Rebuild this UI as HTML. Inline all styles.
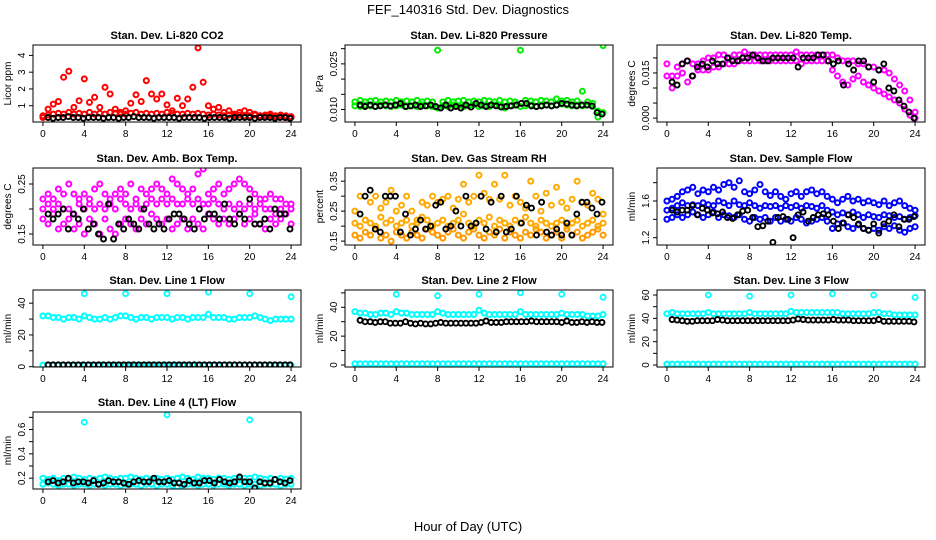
<!DOCTYPE html>
<html><head><meta charset="utf-8"><style>
html,body{margin:0;padding:0;background:#fff;}
svg{display:block;font-family:"Liberation Sans",Arial,sans-serif;}
</style></head><body>
<svg id="chart" width="936" height="540" viewBox="0 0 936 540" xmlns="http://www.w3.org/2000/svg">
<rect x="0" y="0" width="936" height="540" fill="#fff"/>
<text x="468" y="14" font-size="13" text-anchor="middle">FEF_140316  Std. Dev. Diagnostics</text>
<text x="468" y="531" font-size="13" text-anchor="middle">Hour of Day (UTC)</text>
</svg>
<script>
const xTicks = [0,4,8,12,16,20,24];
const co2A = [0.4,0.45,0.5,0.55,0.5,0.6,0.5,0.55,0.5,0.6,0.5,0.55,0.5,0.6,0.55,0.5,0.5,0.55,0.6,0.5,0.55,0.5,0.55,0.5,0.6,0.55,0.5,0.5,0.55,0.5,0.55,0.5,0.45,0.5,0.45,0.4,0.45,0.4,0.45,0.4,0.4,0.45,0.4,0.35,0.4,0.35,0.35,0.3,0.3];
const co2B = [0.3,0.8,1.1,1.25,2.7,3.05,0.9,1.3,2.6,1.2,1.5,0.9,2.1,1.7,0.8,0.6,0.7,1.15,1.65,1.25,2.5,1.7,1.4,1.7,1.05,0.7,1.45,1.0,1.4,2.1,4.45,2.4,1.0,0.8,0.9,0.6,0.7,0.5,0.6,0.7,0.6,0.5,0.4,0.45,0.5,0.4,0.45,0.4,0.35];
const co2K = [0.3,0.25,0.3,0.3,0.35,0.3,0.3,0.25,0.3,0.3,0.3,0.25,0.3,0.3,0.25,0.3,0.3,0.35,0.3,0.3,0.3,0.25,0.3,0.3,0.3,0.3,0.25,0.3,0.3,0.3,0.3,0.25,0.3,0.3,0.3,0.3,0.25,0.3,0.3,0.3,0.3,0.25,0.3,0.3,0.3,0.25,0.3,0.3,0.25];
const prA = [0.0125,0.013,0.0125,0.0128,0.013,0.0125,0.0128,0.0125,0.013,0.0125,0.0128,0.0125,0.013,0.0125,0.0128,0.0125,0.0295,0.0125,0.013,0.0125,0.0128,0.013,0.0125,0.0128,0.0125,0.013,0.0128,0.0125,0.013,0.0125,0.0128,0.0125,0.0295,0.013,0.0128,0.0125,0.013,0.0128,0.0125,0.0135,0.0128,0.013,0.0125,0.0128,0.016,0.0125,0.012,0.0075,0.031];
const prB = [0.0112,0.011,0.0115,0.0112,0.011,0.0115,0.0112,0.011,0.0112,0.0115,0.011,0.0112,0.011,0.0115,0.0112,0.011,0.0105,0.0112,0.011,0.0115,0.0112,0.011,0.0112,0.0115,0.011,0.0112,0.011,0.0115,0.0112,0.0105,0.0112,0.0115,0.011,0.0112,0.0115,0.011,0.0112,0.0115,0.0112,0.0115,0.0118,0.0115,0.0112,0.0115,0.0112,0.0115,0.011,0.0095,0.009];
const prK = [0.0115,0.011,0.0115,0.011,0.0112,0.0115,0.0112,0.0115,0.012,0.011,0.0112,0.0115,0.011,0.0112,0.0115,0.011,0.0105,0.0115,0.0105,0.011,0.0105,0.0115,0.0108,0.012,0.0115,0.011,0.0115,0.0112,0.0108,0.011,0.0112,0.0115,0.012,0.012,0.0112,0.011,0.0112,0.0115,0.0112,0.0115,0.012,0.0118,0.0115,0.0112,0.0115,0.0115,0.0112,0.009,0.0085];
const tA = [0.018,0.014,0.017,0.018,0.019,0.018,0.018,0.019,0.02,0.02,0.021,0.021,0.02,0.021,0.021,0.022,0.021,0.021,0.021,0.021,0.021,0.021,0.021,0.021,0.021,0.022,0.021,0.021,0.021,0.021,0.021,0.021,0.021,0.02,0.019,0.019,0.019,0.018,0.018,0.017,0.017,0.016,0.016,0.015,0.013,0.011,0.009,0.006,0.002];
const tB = [0.014,0.010,0.014,0.015,0.012,0.014,0.016,0.016,0.016,0.017,0.017,0.018,0.018,0.018,0.019,0.019,0.019,0.019,0.019,0.019,0.019,0.019,0.019,0.019,0.019,0.019,0.018,0.019,0.019,0.019,0.019,0.019,0.016,0.014,0.012,0.011,0.013,0.014,0.012,0.011,0.01,0.009,0.008,0.007,0.006,0.005,0.003,0.001,0.0];
const tK = [0.012,0.011,0.018,0.019,0.014,0.017,0.018,0.017,0.019,0.018,0.018,0.02,0.019,0.019,0.02,0.02,0.021,0.02,0.019,0.019,0.02,0.02,0.02,0.02,0.02,0.017,0.02,0.02,0.02,0.021,0.021,0.019,0.018,0.019,0.011,0.018,0.016,0.019,0.019,0.017,0.012,0.016,0.018,0.01,0.009,0.006,0.004,0.002,0.000];
const aA = [0.22,0.23,0.22,0.24,0.23,0.25,0.23,0.22,0.23,0.22,0.24,0.25,0.23,0.22,0.23,0.24,0.23,0.25,0.22,0.24,0.23,0.24,0.25,0.24,0.23,0.26,0.25,0.24,0.23,0.24,0.27,0.28,0.23,0.24,0.25,0.23,0.24,0.25,0.26,0.25,0.24,0.23,0.22,0.22,0.23,0.22,0.22,0.21,0.21];
const aB = [0.18,0.17,0.19,0.16,0.17,0.18,0.16,0.17,0.15,0.18,0.17,0.15,0.18,0.16,0.15,0.17,0.18,0.17,0.16,0.18,0.17,0.19,0.18,0.17,0.18,0.16,0.17,0.18,0.16,0.18,0.17,0.16,0.19,0.18,0.17,0.18,0.17,0.18,0.19,0.17,0.18,0.19,0.17,0.16,0.18,0.17,0.18,0.19,0.17];
const aC = [0.2,0.21,0.2,0.21,0.2,0.2,0.19,0.21,0.2,0.21,0.2,0.21,0.2,0.21,0.2,0.22,0.21,0.2,0.21,0.2,0.21,0.22,0.21,0.22,0.21,0.22,0.21,0.21,0.22,0.21,0.22,0.21,0.21,0.22,0.21,0.2,0.21,0.2,0.21,0.2,0.21,0.2,0.21,0.2,0.2,0.19,0.2,0.19,0.2];
const aK = [0.19,0.18,0.19,0.2,0.16,0.19,0.18,0.2,0.16,0.17,0.15,0.14,0.21,0.14,0.17,0.16,0.18,0.17,0.16,0.2,0.17,0.16,0.17,0.16,0.18,0.19,0.19,0.18,0.17,0.16,0.2,0.18,0.19,0.19,0.18,0.21,0.18,0.17,0.19,0.18,0.22,0.17,0.17,0.18,0.16,0.2,0.19,0.19,0.16];
const rA = [0.25,0.3,0.22,0.28,0.3,0.26,0.28,0.32,0.25,0.27,0.3,0.25,0.22,0.28,0.27,0.3,0.28,0.29,0.3,0.26,0.29,0.34,0.28,0.3,0.37,0.31,0.29,0.34,0.29,0.37,0.27,0.3,0.28,0.26,0.35,0.3,0.25,0.31,0.27,0.33,0.28,0.26,0.29,0.35,0.28,0.27,0.31,0.29,0.24];
const rB = [0.17,0.16,0.18,0.17,0.19,0.16,0.17,0.15,0.18,0.17,0.16,0.18,0.17,0.16,0.19,0.18,0.17,0.16,0.18,0.19,0.17,0.16,0.18,0.19,0.17,0.16,0.18,0.17,0.19,0.16,0.18,0.17,0.16,0.18,0.17,0.19,0.18,0.16,0.17,0.18,0.16,0.19,0.17,0.18,0.16,0.17,0.18,0.19,0.17];
const rC = [0.21,0.2,0.22,0.21,0.2,0.23,0.21,0.22,0.2,0.21,0.22,0.2,0.21,0.23,0.22,0.2,0.21,0.22,0.2,0.21,0.22,0.24,0.21,0.2,0.22,0.21,0.23,0.2,0.22,0.21,0.2,0.22,0.21,0.23,0.21,0.2,0.22,0.21,0.2,0.21,0.22,0.2,0.21,0.22,0.2,0.21,0.22,0.2,0.21];
const rK = [0.24,0.3,0.32,0.19,0.18,0.3,0.3,0.3,0.18,0.24,0.17,0.19,0.22,0.19,0.2,0.27,0.28,0.19,0.2,0.25,0.2,0.3,0.2,0.21,0.3,0.19,0.28,0.18,0.3,0.18,0.19,0.3,0.21,0.27,0.26,0.17,0.28,0.18,0.17,0.19,0.17,0.21,0.17,0.24,0.28,0.28,0.26,0.24,0.28];
const sA = [1.6,1.62,1.65,1.7,1.72,1.75,1.68,1.72,1.7,1.75,1.72,1.78,1.8,1.75,1.82,1.7,1.68,1.72,1.78,1.7,1.66,1.7,1.65,1.62,1.68,1.7,1.65,1.7,1.72,1.68,1.7,1.65,1.62,1.58,1.62,1.65,1.6,1.62,1.58,1.6,1.58,1.56,1.6,1.55,1.58,1.6,1.55,1.52,1.5];
const sB = [1.4,1.42,1.45,1.42,1.45,1.48,1.45,1.42,1.45,1.48,1.42,1.45,1.44,1.42,1.45,1.4,1.38,1.42,1.4,1.42,1.38,1.42,1.38,1.4,1.38,1.42,1.4,1.36,1.38,1.4,1.42,1.38,1.3,1.35,1.36,1.32,1.3,1.34,1.3,1.28,1.3,1.28,1.32,1.3,1.33,1.28,1.26,1.3,1.32];
const sC = [1.5,1.52,1.55,1.58,1.55,1.56,1.55,1.58,1.56,1.55,1.6,1.58,1.55,1.6,1.56,1.55,1.58,1.55,1.52,1.55,1.54,1.55,1.52,1.55,1.53,1.55,1.52,1.55,1.54,1.52,1.55,1.5,1.48,1.45,1.47,1.45,1.48,1.45,1.42,1.45,1.43,1.42,1.45,1.44,1.42,1.43,1.4,1.42,1.44];
const sK = [1.5,1.48,1.5,1.5,1.55,1.45,1.52,1.5,1.47,1.46,1.48,1.42,1.41,1.45,1.49,1.5,1.42,1.32,1.33,1.38,1.15,1.42,1.43,1.4,1.2,1.45,1.48,1.38,1.42,1.45,1.46,1.45,1.38,1.3,1.36,1.45,1.42,1.35,1.3,1.28,1.35,1.25,1.35,1.38,1.45,1.32,1.4,1.4,1.43];
const l1A = [32,32,31,31,30,31,31,30,32,31,30,30,31,30,31,32,32,31,30,31,31,30,31,31,31,30,31,31,30,31,31,31,33,31,31,31,30,30,31,31,31,32,31,30,29,30,30,30,30];
const l1Low = [1,1,1,1,1,1,1,1,1,1,1,1,1,1,1,1,1,1,1,1,1,1,1,1,1,1,1,1,1,1,1,1,1,1,1,1,1,1,1,1,1,1,1,1,1,1,1,1,1];
const l1K = [1.2,1.2,1.2,1.2,1.2,1.2,1.2,1.2,1.2,1.2,1.2,1.2,1.2,1.2,1.2,1.2,1.2,1.2,1.2,1.2,1.2,1.2,1.2,1.2,1.2,1.2,1.2,1.2,1.2,1.2,1.2,1.2,1.2,1.2,1.2,1.2,1.2,1.2,1.2,1.2,1.2,1.2,1.2,1.2,1.2,1.2,1.2,1.2,1.2];
const l1OutHours = [4,8,12,16,20,24];
const l1Out = [46,46,46,47,46,44];
const l2A = [37,36,36,35,35,36,36,35,37,36,36,35,35,35,35,35,37,36,35,35,35,35,35,35,38,36,35,35,35,35,35,35,37,35,35,35,35,35,35,35,36,35,35,35,35,34,34,34,35];
const l2K = [31,30,30,29.5,30,30,29,29,29,30,29,28.5,29,28.5,28.5,29,29.5,29,29,29,29,29,29,29,29.5,30.5,29.5,29.5,29.5,30,30,30,30,30,30.5,30,30,30,30,30,29.5,30.5,29.5,29.5,30,29.5,30,29.5,29.5];
const l2Low = [0.8,0.8,0.8,0.8,0.8,0.8,0.8,0.8,0.8,0.8,0.8,0.8,0.8,0.8,0.8,0.8,0.8,0.8,0.8,0.8,0.8,0.8,0.8,0.8,0.8,0.8,0.8,0.8,0.8,0.8,0.8,0.8,0.8,0.8,0.8,0.8,0.8,0.8,0.8,0.8,0.8,0.8,0.8,0.8,0.8,0.8,0.8,0.8,0.8];
const l2Out = [49,48,49,50,49,47];
const l3A = [44,45,44,44,44,44,44,44,45,44,44,44,44,44,44,44,45,44,44,44,44,44,44,44,46,45,45,45,45,45,45,45,45,45,44,44,44,44,44,44,45,45,44,44,43,43,43,43,43];
const l3K = [39,38.5,38,37.5,37.5,38,38,38,38,39,38.5,38,38,38,38,38,38,38,38,38,38,38,38,38,38.5,39.5,39,38.5,38.5,38.5,38.5,38.5,39,38.5,38.5,38.5,38,38,38,38,38,39,37.5,37.5,37.5,37.5,37.5,37.5,37];
const l3Low = l2Low;
const l3Out = [60,59,60,61,60,58];
const l4A = [0.2,0.19,0.2,0.18,0.2,0.19,0.21,0.2,0.19,0.2,0.19,0.2,0.21,0.2,0.19,0.2,0.2,0.21,0.2,0.19,0.2,0.19,0.2,0.19,0.2,0.19,0.2,0.21,0.2,0.19,0.21,0.2,0.2,0.19,0.2,0.2,0.19,0.2,0.19,0.2,0.2,0.21,0.2,0.19,0.2,0.19,0.2,0.19,0.2];
const l4B = [0.15,0.16,0.15,0.14,0.15,0.15,0.14,0.15,0.15,0.14,0.15,0.15,0.14,0.15,0.15,0.14,0.15,0.15,0.15,0.14,0.15,0.15,0.14,0.15,0.15,0.14,0.13,0.14,0.15,0.15,0.14,0.15,0.15,0.14,0.15,0.15,0.14,0.15,0.15,0.14,0.15,0.15,0.14,0.15,0.15,0.15,0.14,0.15,0.15];
const l4K = [0.17,0.18,0.16,0.17,0.2,0.16,0.17,0.17,0.16,0.18,0.15,0.16,0.18,0.17,0.17,0.16,0.15,0.17,0.18,0.17,0.17,0.2,0.17,0.17,0.18,0.16,0.16,0.15,0.18,0.16,0.16,0.18,0.18,0.16,0.19,0.17,0.16,0.17,0.21,0.17,0.17,0.12,0.17,0.16,0.16,0.19,0.17,0.16,0.18];
const l4OutHours = [4,12,20];
const l4Out = [0.66,0.72,0.68];

const svg = document.getElementById('chart');
const NS = 'http://www.w3.org/2000/svg';
function mk(tag, attrs, parent){const e=document.createElementNS(NS,tag);for(const k in attrs)e.setAttribute(k,attrs[k]);(parent||svg).appendChild(e);return e;}

const W=268,H=77;
const panels = [
 {name:'co2',title:'Stan. Dev. Li-820 CO2',ylab:'Licor ppm',col:0,row:0,yd:[0.03,4.62],ticks:[1,2,3,4],labels:['1','2','3','4'],
  series:[{d:co2A,c:'#ff0000'},{d:co2B,c:'#ff0000'}],black:co2K},
 {name:'pressure',title:'Stan. Dev. Li-820 Pressure',ylab:'kPa',col:1,row:0,yd:[0.0059,0.0312],ticks:[0.010,0.015,0.020,0.025,0.030],labels:['0.010','','','0.025',''],
  series:[{d:prA,c:'#00ee00'},{d:prB,c:'#00ee00'}],black:prK},
 {name:'temp',title:'Stan. Dev. Li-820 Temp.',ylab:'degrees C',col:2,row:0,yd:[-0.0013,0.0243],ticks:[0,0.005,0.010,0.015,0.020],labels:['0.000','','','0.015',''],
  series:[{d:tA,c:'#ff00ff'},{d:tB,c:'#ff00ff'}],black:tK},
 {name:'amb-temp',title:'Stan. Dev. Amb. Box Temp.',ylab:'degrees C',col:0,row:1,yd:[0.128,0.282],ticks:[0.15,0.20,0.25],labels:['0.15','','0.25'],
  series:[{d:aA,c:'#ff00ff'},{d:aB,c:'#ff00ff'},{d:aC,c:'#ff00ff'}],black:aK},
 {name:'rh',title:'Stan. Dev. Gas Stream RH',ylab:'percent',col:1,row:1,yd:[0.137,0.394],ticks:[0.15,0.20,0.25,0.30,0.35],labels:['0.15','','0.25','','0.35'],
  series:[{d:rA,c:'#ffaa00'},{d:rB,c:'#ff9900'},{d:rC,c:'#ffaa00'}],black:rK},
 {name:'sample-flow',title:'Stan. Dev. Sample Flow',ylab:'ml/min',col:2,row:1,yd:[1.12,1.96],ticks:[1.2,1.4,1.6,1.8],labels:['1.2','','1.6',''],
  series:[{d:sA,c:'#0000ff'},{d:sB,c:'#0000ff'},{d:sC,c:'#0000ff'}],black:sK},
 {name:'line1',title:'Stan. Dev. Line 1 Flow',ylab:'ml/min',col:0,row:2,yd:[-0.2,48.3],ticks:[0,10,20,30,40],labels:['0','','20','','40'],
  series:[{d:l1A,c:'#00ffff'},{d:l1Low,c:'#00ffff'}],black:l1K,outH:l1OutHours,out:l1Out},
 {name:'line2',title:'Stan. Dev. Line 2 Flow',ylab:'ml/min',col:1,row:2,yd:[-1.4,52],ticks:[0,10,20,30,40,50],labels:['0','','20','','40',''],
  series:[{d:l2A,c:'#00ffff'},{d:l2Low,c:'#00ffff'}],black:l2K,outH:l1OutHours,out:l2Out},
 {name:'line3',title:'Stan. Dev. Line 3 Flow',ylab:'ml/min',col:2,row:2,yd:[-1.7,64.3],ticks:[0,10,20,30,40,50,60],labels:['0','','20','','40','','60'],
  series:[{d:l3A,c:'#00ffff'},{d:l3Low,c:'#00ffff'}],black:l3K,outH:l1OutHours,out:l3Out},
 {name:'line4',title:'Stan. Dev. Line 4 (LT) Flow',ylab:'ml/min',col:0,row:3,yd:[0.111,0.744],ticks:[0.2,0.3,0.4,0.5,0.6,0.7],labels:['0.2','','0.4','','0.6',''],
  series:[{d:l4A,c:'#00ffff'},{d:l4B,c:'#00ffff'}],black:l4K,outH:l4OutHours,out:l4Out}
];
const colX=[33,345,657], rowY=[45,168,290,412];

panels.forEach(p=>{
  const L=colX[p.col], T=rowY[p.row], B=T+H;
  const g=mk('g',{});
  
  
  const sx=h=>L+(h+0.96)/25.92*W;
  const sy=v=>B-(v-p.yd[0])/(p.yd[1]-p.yd[0])*H;
  const clip=mk('clipPath',{id:'c'+p.name},g);
  mk('rect',{x:L,y:T,width:W,height:H},clip);
  const pts=mk('g',{'clip-path':'url(#c'+p.name+')'},g);
  
  
  const dot=(h,v,c,w)=>{const e=mk('circle',{cx:sx(h).toFixed(1),cy:sy(v).toFixed(1),r:2.5,fill:'none',stroke:c,'stroke-width':w},pts);
    
    };
  p.series.forEach(s=>{const n=s.d.length;s.d.forEach((v,i)=>dot(i*24/(n-1),v,s.c,2));});
  if(p.out){p.out.forEach((v,i)=>dot(p.outH[i],v,'#00ffff',1.8));}
  const n=p.black.length;
  p.black.forEach((v,i)=>dot(0.5+i*23.4/(n-1),v,'#000',1.9));
  const box=mk('rect',{x:L,y:T,width:W,height:H,fill:'none',stroke:'#000','stroke-width':1},g);
  
  
  const t=mk('text',{x:L+W/2,y:T-6,'font-size':11,'font-weight':'bold','text-anchor':'middle'},g);
  t.textContent=p.title;
  
  
  const yl=mk('text',{x:L-22,y:T+H/2,'font-size':10,'text-anchor':'middle',transform:'rotate(-90 '+(L-22)+' '+(T+H/2)+')'},g);
  yl.textContent=p.ylab;
  
  
  xTicks.forEach(h=>{const x=sx(h);mk('line',{x1:x,y1:B,x2:x,y2:B+4,stroke:'#000'},g);
    const tx=mk('text',{x:x,y:B+15,'font-size':10,'text-anchor':'middle'},g);tx.textContent=h;
    
    });
  p.ticks.forEach((v,i)=>{const y=sy(v);mk('line',{x1:L-4,y1:y,x2:L,y2:y,stroke:'#000'},g);
    if(p.labels[i]){const ty=mk('text',{x:L-8,y:y,'font-size':10,'text-anchor':'middle',transform:'rotate(-90 '+(L-8)+' '+y+')'},g);ty.textContent=p.labels[i];
    
    }});
});
</script>
</body></html>
